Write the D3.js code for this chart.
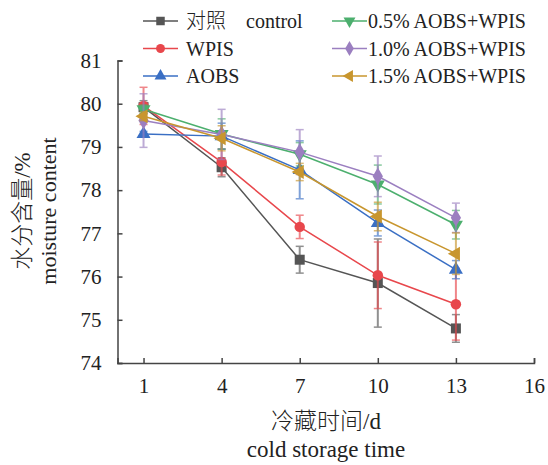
<!DOCTYPE html>
<html><head><meta charset="utf-8">
<script src="https://cdn.jsdelivr.net/npm/d3@7"></script>
<style>body{margin:0;background:#fff}svg{display:block}</style>
</head><body>
<svg id="c" width="548" height="465"></svg>
<script>
const days = [1, 4, 7, 10, 13];
const xTicks = [1, 4, 7, 10, 13, 16];
const yTicks = [74, 75, 76, 77, 78, 79, 80, 81];
const seriesNames = ["对照    control", "WPIS", "AOBS", "0.5% AOBS+WPIS", "1.0% AOBS+WPIS", "1.5% AOBS+WPIS"];
const controlVals = [79.92, 78.53, 76.39, 75.85, 74.80];
const controlErr  = [0.15, 0.22, 0.31, 1.02, 0.32];
const wpisVals = [79.95, 78.65, 77.15, 76.03, 75.36];
const wpisErr  = [0.43, 0.30, 0.27, 0.77, 0.83];
const aobsVals = [79.30, 79.25, 78.47, 77.24, 76.16];
const aobsErr  = [0.06, 0.30, 0.67, 0.30, 0.21];
const g05Vals = [79.87, 79.30, 78.83, 78.13, 77.20];
const g05Err  = [0.10, 0.35, 0.27, 0.45, 0.33];
const g10Vals = [79.61, 79.29, 78.88, 78.32, 77.36];
const g10Err  = [0.62, 0.58, 0.52, 0.47, 0.34];
const g15Vals = [79.71, 79.20, 78.42, 77.39, 76.53];
const g15Err  = [0.10, 0.29, 0.20, 0.33, 0.48];

const colors = ["#555555", "#e8474c", "#3a6fc4", "#4caf6e", "#9b7fc0", "#c8962e"];
const shapes = ["square", "circle", "triUp", "triDown", "diamond", "triLeft"];
const allVals = [controlVals, wpisVals, aobsVals, g05Vals, g10Vals, g15Vals];
const allErr = [controlErr, wpisErr, aobsErr, g05Err, g10Err, g15Err];

const svg = d3.select("#c");
const font = "'Liberation Serif','Times New Roman',serif";
const cjk = "'Liberation Serif','Noto Sans CJK SC',serif";
const x = d3.scaleLinear().domain([0, 16]).range([117.5, 534]);
const y = d3.scaleLinear().domain([74, 81]).range([363, 60.5]);

// axes
const xAx = svg.append("g").attr("transform", "translate(0,363)")
  .call(d3.axisBottom(x).tickValues(xTicks).tickSize(-5).tickPadding(15).tickFormat(d3.format("d")));
const yAx = svg.append("g").attr("transform", "translate(117.5,0)")
  .call(d3.axisLeft(y).tickValues(yTicks).tickSize(-5).tickPadding(16).tickFormat(d3.format("d")));
[xAx, yAx].forEach(a => {
  a.select(".domain").attr("stroke", "#444").attr("stroke-width", 1.5);
  a.selectAll(".tick line").attr("stroke", "#444").attr("stroke-width", 1.5);
  a.selectAll("text").attr("font-family", font).attr("font-size", 21).attr("fill", "#222");
});
xAx.selectAll("text").attr("dy", "0.71em");

function symbolPath(shape, size) {
  const s = size;
  if (shape === "square") return d3.symbol(d3.symbolSquare, s * s)();
  if (shape === "circle") return d3.symbol(d3.symbolCircle, Math.PI * (s / 2) * (s / 2) * 1.1)();
  if (shape === "diamond") return d3.symbol(d3.symbolDiamond, s * s * 0.9)();
  return d3.symbol(d3.symbolTriangle, s * s * 0.85)();
}
function rot(shape) {
  if (shape === "triDown") return 180;
  if (shape === "triLeft") return -90;
  return 0;
}

const line = d3.line().x(d => x(d[0])).y(d => y(d[1]));

allVals.forEach((vals, i) => {
  const g = svg.append("g");
  const pts = days.map((d, j) => [d, vals[j], allErr[i][j]]);
  g.append("path").datum(pts).attr("d", line).attr("fill", "none")
    .attr("stroke", colors[i]).attr("stroke-width", 1.5);
  const eb = g.selectAll(".eb").data(pts).enter().append("g").attr("opacity", 0.65);
  eb.append("line").attr("x1", d => x(d[0])).attr("x2", d => x(d[0]))
    .attr("y1", d => y(d[1] - d[2])).attr("y2", d => y(d[1] + d[2]))
    .attr("stroke", colors[i]).attr("stroke-width", 2);
  [1, -1].forEach(sg => {
    eb.append("line").attr("x1", d => x(d[0]) - 4).attr("x2", d => x(d[0]) + 4)
      .attr("y1", d => y(d[1] + sg * d[2])).attr("y2", d => y(d[1] + sg * d[2]))
      .attr("stroke", colors[i]).attr("stroke-width", 1.5);
  });
  g.selectAll(".m").data(pts).enter().append("path")
    .attr("d", symbolPath(shapes[i], 10))
    .attr("transform", d => `translate(${x(d[0])},${y(d[1])}) rotate(${rot(shapes[i])})`)
    .attr("fill", colors[i]);
});

// legend
const legPos = [[143, 21], [143, 48.5], [143, 76], [332, 21], [332, 48.5], [332, 76]];
seriesNames.forEach((n, i) => {
  const [lx, ly] = legPos[i];
  const lg = svg.append("g").attr("transform", `translate(${lx},${ly})`);
  lg.append("line").attr("x1", 0).attr("x2", 35).attr("stroke", colors[i]).attr("stroke-width", 1.5);
  lg.append("path").attr("d", symbolPath(shapes[i], 8.5))
    .attr("transform", `translate(17.5,0) rotate(${rot(shapes[i])})`).attr("fill", colors[i]);
  lg.append("text").attr("x", i < 3 ? 43 : 36).attr("y", 0).attr("dy", "0.35em")
    .attr("font-family", cjk).attr("font-weight", 300).attr("font-size", 20).attr("fill", "#222")
    .attr("xml:space", "preserve").text(n);
});

// axis titles
svg.append("text").attr("x", 326).attr("y", 429).attr("text-anchor", "middle")
  .attr("font-family", cjk).attr("font-weight", 300).attr("font-size", 23).attr("fill", "#222").text("冷藏时间/d");
svg.append("text").attr("x", 326).attr("y", 457).attr("text-anchor", "middle")
  .attr("font-family", font).attr("font-size", 23).attr("fill", "#222").text("cold storage time");
const yt = svg.append("g").attr("transform", "translate(0,211) rotate(-90)");
yt.append("text").attr("x", 0).attr("y", 30).attr("text-anchor", "middle")
  .attr("font-family", cjk).attr("font-weight", 300).attr("font-size", 23).attr("fill", "#222").text("水分含量/%");
yt.append("text").attr("x", 0).attr("y", 56).attr("text-anchor", "middle")
  .attr("font-family", font).attr("font-size", 22).attr("fill", "#222").text("moisture content");
</script>
</body></html>
